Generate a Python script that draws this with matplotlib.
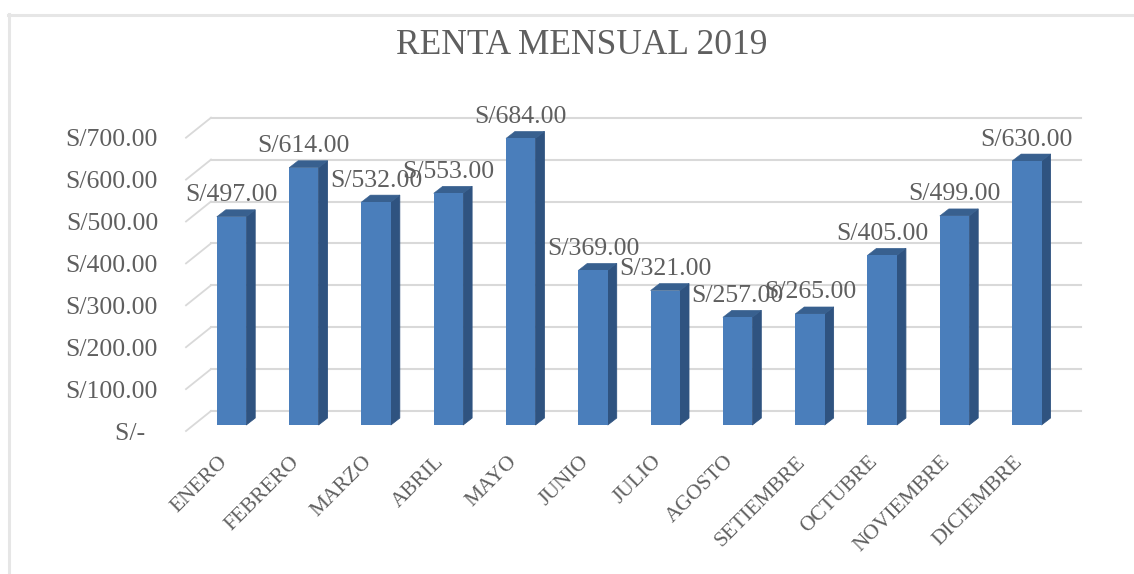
import matplotlib
matplotlib.use("Agg")
import matplotlib.pyplot as plt
from matplotlib.lines import Line2D
from matplotlib.patches import Polygon

months = ["ENERO", "FEBRERO", "MARZO", "ABRIL", "MAYO", "JUNIO", "JULIO",
          "AGOSTO", "SETIEMBRE", "OCTUBRE", "NOVIEMBRE", "DICIEMBRE"]
rent = [497, 614, 532, 553, 684, 369, 321, 257, 265, 405, 499, 630]
ticks = [0, 100, 200, 300, 400, 500, 600, 700]
title = "RENTA MENSUAL 2019"

W, H = 1134, 574
SERIF = "Liberation Serif"
TXT = "#5f5f5f"
GRID = "#d9d9d9"

fig = plt.figure(figsize=(W / 100, H / 100), dpi=100, facecolor="white")
ax = fig.add_axes([0, 0, 1, 1])
ax.axis("off")

PX_X = 72.3      # pixels per category
PX_Y = 0.419     # pixels per currency unit
X0, Y0 = 231.5, 425
ax.set_xlim((0 - X0) / PX_X, (W - X0) / PX_X)
ax.set_ylim((Y0 - H) / PX_Y, (Y0 - 0) / PX_Y)


def dx(p):
    return p / PX_X


def dy(p):
    return p / PX_Y


# chart frame
fig.add_artist(Line2D([8 / W, 1], [1 - 14.5 / H] * 2, color="#e6e6e6", lw=2.2))
fig.add_artist(Line2D([9 / W] * 2, [1 - 14 / H, 1 - 572 / H], color="#e6e6e6", lw=2.2))

# wall grid and the slanted floor ticks
xl = dx(186 - X0)
xb = dx(211 - X0)
xr = dx(1081 - X0)
for t in ticks:
    yf = t - dy(6)
    yb = t + dy(14)
    ax.plot([xl, xb], [yf, yb], color=GRID, lw=1.3, zorder=1)
    ax.plot([xb, xr], [yb, yb], color=GRID, lw=1.5, zorder=1)
    lab = "S/-  " if t == 0 else f"S/{t:.2f}"
    ax.text(dx(158 - X0), t - dy(6), lab, ha="right", va="center_baseline",
            family=SERIF, fontsize=18.5, color=TXT, zorder=5)

# bars: front, side and top faces
half = dx(14.7)
ox, oy = dx(9), dy(7)
for i, v in enumerate(rent):
    ax.bar(i, v, width=2 * half, color="#4a7ebb", linewidth=0, zorder=3.2)
    ax.add_patch(Polygon([(i + half, 0), (i + half + ox, oy), (i + half + ox, v + oy), (i + half, v)],
                         closed=True, fc="#2f5380", ec="#2f5380", lw=0.6, zorder=3))
    ax.add_patch(Polygon([(i - half, v), (i + half, v), (i + half + ox, v + oy), (i - half + ox, v + oy)],
                         closed=True, fc="#38608f", ec="#38608f", lw=0.4, zorder=3.1))
    ax.text(i, v + dy(24), f"S/{v:.2f}", ha="center", va="center_baseline",
            family=SERIF, fontsize=18.5, color=TXT, zorder=6)
    ax.text(i - dx(7), dy(-34), months[i], ha="right", va="center", rotation=45,
            rotation_mode="anchor", family=SERIF, fontsize=15.5, color=TXT, zorder=5)

ax.text(dx(582 - X0), dy(Y0 - 46), title, ha="center", va="center",
        family=SERIF, fontsize=25.5, color=TXT, zorder=5)

fig.savefig("out.png", dpi=100)
